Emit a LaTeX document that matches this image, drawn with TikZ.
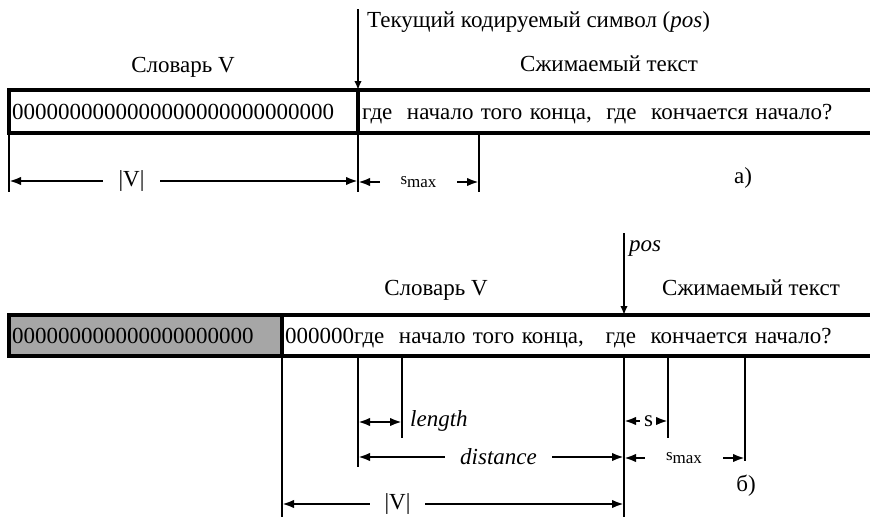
\documentclass[tikz,border=0pt]{standalone}
\usepackage{fontspec}
\setmainfont{Liberation Serif}
\usetikzlibrary{arrows.meta}
\definecolor{boxgray}{RGB}{166,166,166}
\begin{document}
\begin{tikzpicture}[x=1pt,y=-1pt,
  frame/.style={line width=3.8pt},
  ext/.style={line width=1.3pt},
  dimtip/.tip={Latex[length=12pt,width=8.5pt]},
  tip/.style={-dimtip},
  dim/.style={line width=2.3pt,tip},
  pointer/.style={line width=2.6pt,-{Latex[length=9pt,width=7.5pt]}},
  txt/.style={inner sep=0pt,font=\fontsize{23}{27}\selectfont},
  row/.style={txt,anchor=base west,execute at begin node={\spaceskip=7.3pt plus 1pt}},
  small/.style={inner sep=0pt,font=\fontsize{17}{20}\selectfont},
  gap/.style={inner sep=0pt,minimum width=#1,minimum height=10pt}
]
\useasboundingbox (0,0) rectangle (870,517);

% ---------------- a) ----------------
% buffer: dictionary on the left, text to be compressed on the right
\draw[frame] (872,90) -- (9,90) -- (9,133) -- (872,133);
\draw[frame] (358,90) -- (358,133);
\node[txt,anchor=base west] (zerosA) at (12,119.5) {0000000000000000000000000000};
\node[row] (textA) at (362,119.5) {где\ \ начало того конца,\ \ где\ \ кончается начало?};

% current symbol pointer
\coordinate (posTopA) at (358,9);
\coordinate (posA) at (358,90);
\draw[pointer] (posTopA) -- (posA);
\node[txt,anchor=base west] (curA) at (367,27) {Текущий кодируемый символ (\textit{pos})};
\node[txt,anchor=base] (dictA) at (183,72) {Словарь V};
\node[txt,anchor=base] (srcA) at (609,71) {Сжимаемый текст};

% extension lines
\coordinate (a0t) at (9,133);   \coordinate (a0b) at (9,192);
\coordinate (a1t) at (358,133); \coordinate (a1b) at (358,192);
\coordinate (a2t) at (479,133); \coordinate (a2b) at (479,192);
\draw[ext] (a0t) -- (a0b);
\draw[ext] (a1t) -- (a1b);
\draw[ext] (a2t) -- (a2b);

% dimensions
\node[txt,gap=57pt] (vA) at (131.5,181) {|V|};
\draw[dim] (vA.west) -- (vA.west -| a0t);
\draw[dim] (vA.east) -- (vA.east -| a1t);
\node[small,gap=77pt] (smA) at (418.5,182) {s\raisebox{-3pt}{max}};
\draw[dim] (smA.west) -- (smA.west -| a1t);
\draw[dim] (smA.east) -- (smA.east -| a2t);
\node[txt,anchor=center] (labA) at (743,178) {а)};

% ---------------- б) ----------------
\fill[boxgray] (9,315) rectangle (282,356);
\draw[frame] (872,315) -- (9,315) -- (9,356) -- (872,356);
\draw[frame] (282,315) -- (282,356);
\node[txt,anchor=base west] (zerosB) at (12,343) {000000000000000000000};
\node[row] (textB) at (285,343) {000000где\ \ начало того конца,\ \ \ где\ \ кончается начало?};

\coordinate (posTopB) at (624,233);
\coordinate (posB) at (624,315);
\draw[pointer] (posTopB) -- (posB);
\node[txt,anchor=base west] (posLbl) at (629,251) {\textit{pos}};
\node[txt,anchor=base] (dictB) at (436,295) {Словарь V};
\node[txt,anchor=base] (srcB) at (751,295) {Сжимаемый текст};

% extension lines
\coordinate (b0t) at (282,356); \coordinate (b0b) at (282,517);
\coordinate (b1t) at (358,356); \coordinate (b1b) at (358,467);
\coordinate (b2t) at (402,356); \coordinate (b2b) at (402,438);
\coordinate (b3t) at (624,356); \coordinate (b3b) at (624,517);
\coordinate (b4t) at (668,356); \coordinate (b4b) at (668,438);
\coordinate (b5t) at (745,356); \coordinate (b5b) at (745,461);
\foreach \e in {0,...,5} \draw[ext] (b\e t) -- (b\e b);

% dimensions
\coordinate (lenL) at (358,422);
\coordinate (lenR) at (402,422);
\draw[line width=2.3pt,dimtip-dimtip] (lenL) -- (lenR);
\node[txt,anchor=west] (lenLbl) at (410,421) {\textit{length}};

\node[txt,gap=17pt] (sB) at (648.5,421) {s};
\draw[dim] (sB.west) -- (sB.west -| b3t);
\draw[dim] (sB.east) -- (sB.east -| b4t);

\node[txt,gap=107pt] (distB) at (498.5,457) {\textit{distance}};
\draw[dim] (distB.west) -- (distB.west -| b1t);
\draw[dim] (distB.east) -- (distB.east -| b3t);

\node[small,gap=78pt] (smB) at (684,458) {s\raisebox{-3pt}{max}};
\draw[dim] (smB.west) -- (smB.west -| b3t);
\draw[dim] (smB.east) -- (smB.east -| b5t);

\node[txt,gap=55pt] (vB) at (397.5,504) {|V|};
\draw[dim] (vB.west) -- (vB.west -| b0t);
\draw[dim] (vB.east) -- (vB.east -| b3t);

\node[txt,anchor=center] (labB) at (746,486) {б)};
\end{tikzpicture}
\end{document}
